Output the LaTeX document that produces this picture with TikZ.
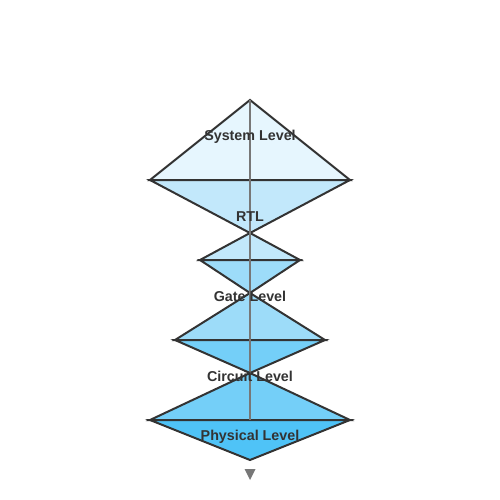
\documentclass[tikz,border=0pt]{standalone}
\usepackage{xcolor}
\usepackage{fontspec}
\setmainfont{Liberation Sans}
\usepackage{tikz}
\usetikzlibrary{positioning,arrows.meta}

\definecolor{edge}{HTML}{333333}
\definecolor{axis}{HTML}{777777}
\definecolor{lvlA}{HTML}{E6F6FE}
\definecolor{lvlB}{HTML}{C2E8FB}
\definecolor{lvlC}{HTML}{9DDCF9}
\definecolor{lvlD}{HTML}{74CFF8}
\definecolor{lvlE}{HTML}{4FC3F7}

\begin{document}
\begin{tikzpicture}[x=1pt, y=-1pt, font=\bfseries\fontsize{14.3}{16}\selectfont, tri/.style={draw=edge, line width=2pt}, lbl/.style={text=edge, inner sep=0pt}]
		\useasboundingbox (0,0) rectangle (500,500);
		% corners of the stack
		\coordinate (sysTop) at (250,100);
		\coordinate (baseAL) at (150,180);
		\coordinate (baseAR) at (350,180);
		\coordinate (waistA) at (250,233);
		\coordinate (baseBL) at (200,260);
		\coordinate (baseBR) at (300,260);
		\coordinate (waistB) at (250,293);
		\coordinate (baseCL) at (175,340);
		\coordinate (baseCR) at (325,340);
		\coordinate (waistC) at (250,373);
		\coordinate (baseDL) at (150,420);
		\coordinate (baseDR) at (350,420);
		\coordinate (baseDM) at (250,420);
		\coordinate (physBot) at (250,460);
		% levels
		\draw[tri, fill=lvlA] (sysTop) -- (baseAR) -- (baseAL) -- cycle;
		\draw[tri, fill=lvlB] (baseAL) -- (baseAR) -- (waistA) -- cycle;
		\draw[tri, fill=lvlB] (waistA) -- (baseBR) -- (baseBL) -- cycle;
		\draw[tri, fill=lvlC] (baseBL) -- (baseBR) -- (waistB) -- cycle;
		\draw[tri, fill=lvlC] (waistB) -- (baseCR) -- (baseCL) -- cycle;
		\draw[tri, fill=lvlD] (baseCL) -- (baseCR) -- (waistC) -- cycle;
		\draw[tri, fill=lvlD] (waistC) -- (baseDR) -- (baseDL) -- cycle;
		\draw[tri, fill=lvlE] (baseDL) -- (baseDR) -- (physBot) -- cycle;
		\draw[axis, line width=2pt] (sysTop) -- (baseDM);
		\fill[axis] (244.5,469) -- (255.5,469) -- (250,480) -- cycle;
		% labels
		\node[lbl] (system) at (250,136.5) {System Level};
		\node[lbl] (rtl) at (250,216.5) {RTL};
		\node[lbl] (gate) at (250,296.5) {Gate Level};
		\node[lbl] (circuit) at (250,376.5) {Circuit Level};
		\node[lbl] (physical) at (250,436.5) {Physical Level};
	\end{tikzpicture}
\end{document}
